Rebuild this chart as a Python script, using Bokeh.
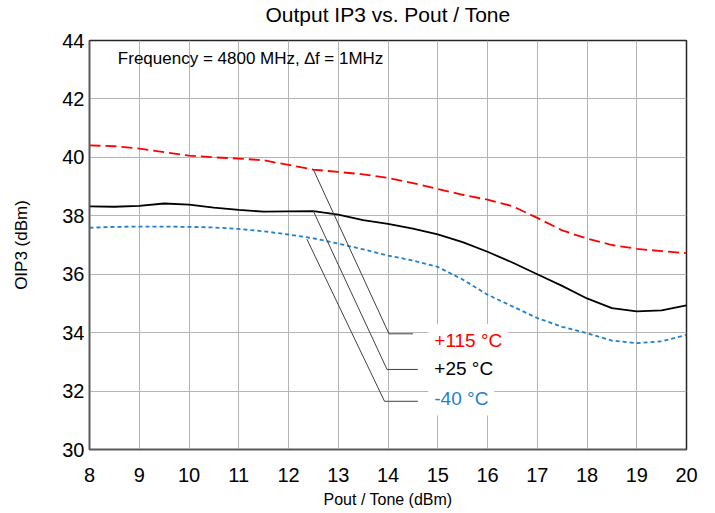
from bokeh.plotting import figure
from bokeh.models import FixedTicker, Label, Range1d, Title
from bokeh.embed import file_html
from bokeh.resources import INLINE

# ---- data ----
pout = [8, 8.5, 9, 9.5, 10, 10.5, 11, 11.5, 12, 12.5, 13, 13.5, 14, 14.5,
        15, 15.5, 16, 16.5, 17, 17.5, 18, 18.5, 19, 19.5, 20]
oip3_p115 = [40.41, 40.38, 40.30, 40.18, 40.06, 40.00, 39.96, 39.90, 39.74, 39.58,
             39.50, 39.42, 39.30, 39.12, 38.92, 38.72, 38.55, 38.33, 37.93, 37.50,
             37.22, 37.00, 36.87, 36.79, 36.72]
oip3_p25 = [38.32, 38.31, 38.34, 38.42, 38.38, 38.28, 38.20, 38.14, 38.15, 38.16,
            38.04, 37.85, 37.72, 37.56, 37.36, 37.10, 36.77, 36.40, 36.00, 35.60,
            35.17, 34.84, 34.73, 34.76, 34.93]
oip3_m40 = [37.59, 37.62, 37.63, 37.63, 37.62, 37.60, 37.55, 37.47, 37.36, 37.23,
            37.05, 36.85, 36.64, 36.47, 36.25, 35.82, 35.30, 34.90, 34.50, 34.20,
            33.98, 33.73, 33.64, 33.70, 33.92]

x_ticks = [8, 9, 10, 11, 12, 13, 14, 15, 16, 17, 18, 19, 20]
y_ticks = [30, 32, 34, 36, 38, 40, 42, 44]

title_text = "Output IP3 vs. Pout / Tone"
series_labels = ["+115 °C", "+25 °C", "-40 °C"]
# callout leader lines (x, y) from curve to label
leader_p115_x = [12.5, 14.02, 14.5]
leader_p115_y = [39.58, 33.96, 33.96]
leader_p25_x = [12.5, 13.98, 14.6]
leader_p25_y = [38.16, 32.74, 32.74]
leader_m40_x = [12.37, 13.93, 14.6]
leader_m40_y = [37.20, 31.65, 31.65]
label_x = 14.81
label_y = [33.73, 32.76, 31.73]

FONT = "Liberation Sans"
RED = "#ff0000"
BLACK = "#000000"
BLUE = "#1f7fd0"

FW, FH = 597, 409
p = figure(width=700, height=500, frame_width=FW, frame_height=FH,
           x_range=Range1d(8, 20), y_range=Range1d(30, 44),
           output_backend="svg", toolbar_location=None,
           min_border_left=89, min_border_right=14, min_border_top=40,
           min_border_bottom=51)

# spacer between frame and title, then the title itself
p.add_layout(Title(text=" ", text_font_size="1px", standoff=12), "above")
p.add_layout(Title(text=title_text, align="center", text_font=FONT,
                   text_font_size="21px", text_font_style="normal",
                   text_color="#000000", standoff=0, offset=0), "above")

p.background_fill_color = "white"
p.border_fill_color = "white"
p.outline_line_color = "#262626"
p.outline_line_width = 1.5

p.xaxis.ticker = FixedTicker(ticks=x_ticks)
p.yaxis.ticker = FixedTicker(ticks=y_ticks)
for ax in (p.xaxis[0], p.yaxis[0]):
    ax.axis_line_color = "#595959"
    ax.axis_line_width = 1.5
    ax.major_tick_line_color = None
    ax.minor_tick_line_color = None
    ax.major_tick_in = 0
    ax.major_tick_out = 0
    ax.major_label_text_font = FONT
    ax.major_label_text_font_size = "20px"
    ax.major_label_text_color = "#000000"
    ax.axis_label_text_font = FONT
    ax.axis_label_text_font_style = "normal"
    ax.axis_label_text_color = "#000000"

p.xaxis.axis_label = "Pout / Tone (dBm)"
p.yaxis.axis_label = "OIP3 (dBm)"
p.xaxis.axis_label_text_font_size = "16px"
p.yaxis.axis_label_text_font_size = "17px"
p.xaxis.major_label_standoff = 18
p.xaxis.axis_label_standoff = 6
p.yaxis.major_label_standoff = 5
p.yaxis.axis_label_standoff = 28

p.xgrid.grid_line_color = "#b4b4b4"
p.ygrid.grid_line_color = "#b4b4b4"
p.xgrid.grid_line_width = 1
p.ygrid.grid_line_width = 1

p.line(pout, oip3_p115, line_color=RED, line_width=1.8, line_dash="11 5")
p.line(pout, oip3_p25, line_color=BLACK, line_width=1.8)
p.line(pout, oip3_m40, line_color=BLUE, line_width=1.8, line_dash="4 3")

for lx, ly in ((leader_p115_x, leader_p115_y), (leader_p25_x, leader_p25_y),
               (leader_m40_x, leader_m40_y)):
    p.line(lx, ly, line_color="#404040", line_width=1)

for text, ly, col in zip(series_labels, label_y, [RED, BLACK, BLUE]):
    p.add_layout(Label(x=label_x, y=ly, text=text, text_font=FONT,
                       text_font_size="19px", text_color=col,
                       text_baseline="middle", text_align="left",
                       background_fill_color="white", padding=6))

p.add_layout(Label(x=8.57, y=43.4, text="Frequency = 4800 MHz, \u2206f = 1MHz",
                   text_font=FONT, text_font_size="17px", text_color="#000000",
                   text_baseline="middle", text_align="left"))

open("out.html", "w").write(file_html(p, INLINE))
